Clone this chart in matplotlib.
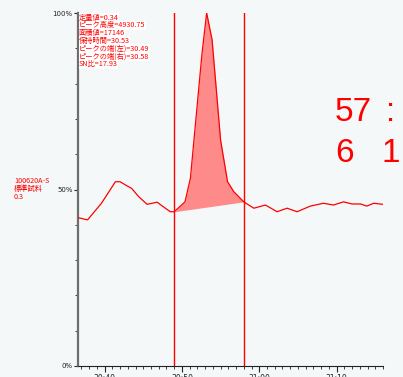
import numpy as np
import matplotlib.pyplot as plt
from matplotlib.ticker import FixedLocator, MultipleLocator

# chromatogram trace: time in seconds, signal in % of peak height
times = [1836.6, 1837.8, 1839.6, 1841.4, 1842.0, 1842.7, 1843.5, 1844.4, 1845.5,
         1846.8, 1847.6, 1848.5, 1849.0, 1850.4, 1851.1, 1852.6, 1853.2, 1853.9,
         1855.0, 1855.9, 1856.7, 1858.0, 1859.3, 1860.8, 1862.3, 1863.6, 1864.9,
         1866.6, 1868.3, 1869.6, 1870.9, 1872.0, 1873.1, 1873.9, 1874.8, 1876.0]
signal = [42.0, 41.4, 46.1, 52.2, 52.2, 51.3, 50.3, 48.0, 45.8,
          46.4, 45.1, 43.7, 43.7, 46.5, 53.2, 88.6, 100.0, 92.4,
          64.0, 52.2, 49.4, 46.5, 44.7, 45.6, 43.7, 44.7, 43.7,
          45.3, 46.1, 45.6, 46.5, 45.9, 45.9, 45.3, 46.1, 45.8]

peak_left = 1849.0
peak_right = 1858.0

result_lines = ['定量値=0.34', 'ピーク高度=4930.75', '面積値=17146', '保持時間=30.53',
                'ピークの端(左)=30.49', 'ピークの端(右)=30.58', 'SN比=17.93']
sample_lines = ['100620A-S', '標準試料', '0.3']

xticks = [1840, 1850, 1860, 1870]
xtick_labels = ['30:40', '30:50', '31:00', '31:10']

W, H = 403, 377
bg = '#f4f8f8'
red = '#ff0000'
jp = ['Noto Sans CJK JP', 'DejaVu Sans']

fig = plt.figure(figsize=(W / 100, H / 100), dpi=100, facecolor=bg)
ax = fig.add_axes([77.5 / W, 1 - 366 / H, (383 - 77.5) / W, (366 - 13) / H])
ax.set_facecolor(bg)

t = np.array(times)
s = np.array(signal)
ax.plot(t, s, color=red, lw=0.9, zorder=3)

# peak area between the trace and the straight baseline joining the peak ends
inside = (t >= peak_left) & (t <= peak_right)
ti, si = t[inside], s[inside]
base = np.interp(ti, [ti[0], ti[-1]], [si[0], si[-1]])
ax.fill_between(ti, base, si, color='#ff8a8a', lw=0, zorder=2)

for x in (peak_left, peak_right):
    ax.plot([x, x], [0, 100], color=red, lw=1.0, zorder=4)

ax.set_xlim(1836.5, 1876.0)
ax.set_ylim(0, 100)

for side in ('top', 'right'):
    ax.spines[side].set_visible(False)
ax.spines['left'].set_color('#6e6e6e')
ax.spines['left'].set_linewidth(1.6)
ax.spines['bottom'].set_color('#222222')
ax.spines['bottom'].set_linewidth(0.8)

ax.set_xticks(xticks)
ax.set_xticklabels(xtick_labels)
ax.xaxis.set_minor_locator(MultipleLocator(1))
ax.set_yticks([0, 50, 100])
ax.set_yticklabels(['0%', '50%', '100%'])
ax.yaxis.set_minor_locator(FixedLocator(np.arange(10, 100, 10)))
ax.tick_params(axis='x', which='major', length=4, width=0.8, pad=1.5, labelsize=5.5, colors='#222222')
ax.tick_params(axis='x', which='minor', length=2.5, width=0.6, colors='#222222')
ax.tick_params(axis='y', which='major', length=3, width=0.8, pad=0.5, labelsize=5, colors='#222222')
ax.tick_params(axis='y', which='minor', length=2, width=0.6, colors='#222222')

def px(x, y):
    return x / W, 1 - y / H

# result summary in the top-left corner of the plot
for i, line in enumerate(result_lines):
    fig.text(*px(79, 17.5 + i * 7.8), line, family=jp, fontsize=5.2, color=red,
             va='center', ha='left', zorder=5,
             bbox=dict(facecolor='white', edgecolor='none', pad=0.2))

for i, line in enumerate(sample_lines):
    fig.text(*px(14, 181 + i * 7.8), line, family=jp, fontsize=5.2, color=red,
             va='center', ha='left')

# large clock readout partly off the right edge
big = dict(family='Liberation Sans', fontsize=24, color=red, va='baseline', ha='left')
fig.text(*px(335, 121), '57', **big)
fig.text(*px(386, 121), ':', **big)
fig.text(*px(335, 162), '6', **big)
fig.text(*px(382, 162), '1', **big)

fig.savefig('out.png', dpi=100, facecolor=bg)
